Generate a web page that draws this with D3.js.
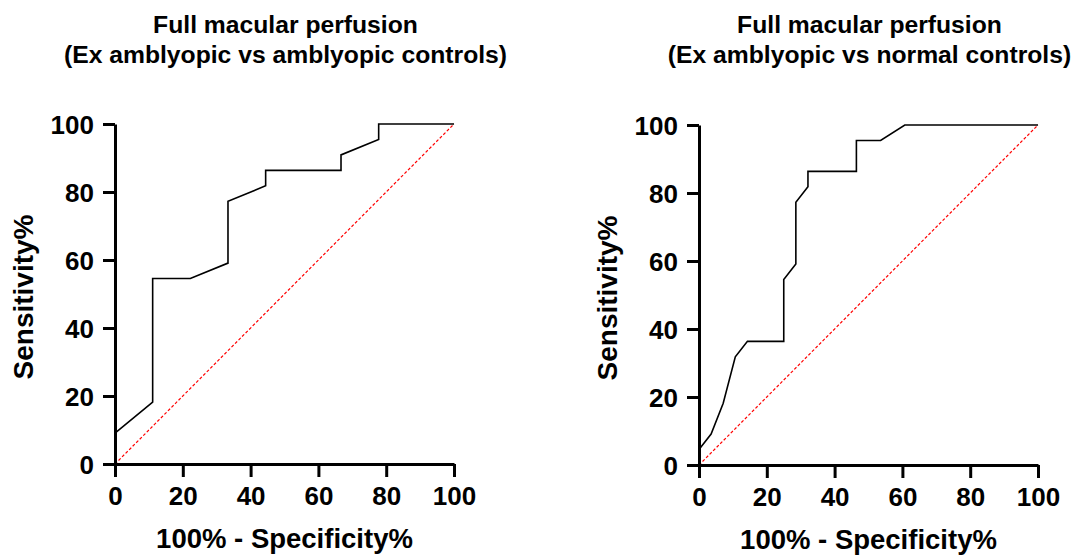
<!DOCTYPE html>
<html>
<head>
<meta charset="utf-8">
<script src="https://cdn.jsdelivr.net/npm/d3@7"></script>
<style>
  body { margin: 0; background: #fff; }
  text { font-family: "Liberation Sans", Arial, sans-serif; font-weight: bold; fill: #000; }
</style>
</head>
<body>
<div id="chart-holder"></div>
<script>
// ROC curves: [100% - specificity, sensitivity]
var rocAmblyopic = [
  [0, 9.09], [11.11, 18.18], [11.11, 54.55], [22.22, 54.55], [33.33, 59.09],
  [33.33, 77.27], [44.44, 81.82], [44.44, 86.36], [66.67, 86.36], [66.67, 90.91],
  [77.78, 95.45], [77.78, 100], [100, 100]
];
var rocNormal = [
  [0, 4.55], [3.57, 9.09], [7.14, 18.18], [10.71, 31.82], [14.29, 36.36],
  [25.0, 36.36], [25.0, 54.55], [28.57, 59.09], [28.57, 77.27], [32.14, 81.82],
  [32.14, 86.36], [46.43, 86.36], [46.43, 95.45], [53.57, 95.45], [60.71, 100],
  [100, 100]
];
var refLine = [[0, 0], [100, 100]];
var tickValues = [0, 20, 40, 60, 80, 100];
var titles = [
  ["Full macular perfusion", "(Ex amblyopic vs amblyopic controls)"],
  ["Full macular perfusion", "(Ex amblyopic vs normal controls)"]
];
var xLabel = "100% - Specificity%";
var yLabel = "Sensitivity%";

var svg = d3.select("#chart-holder").append("svg")
  .attr("width", 1075)
  .attr("height", 556);

// left & top offsets of each panel, plus where the y label baseline sits
var panels = [
  { left: 115, top: 124, yLabelX: 33, data: rocAmblyopic, title: titles[0] },
  { left: 699, top: 125, yLabelX: 617, data: rocNormal, title: titles[1] }
];
var w = 339, h = 340;

panels.forEach(function(p) {
  var x = d3.scaleLinear().domain([0, 100]).range([0, w]);
  var y = d3.scaleLinear().domain([0, 100]).range([h, 0]);

  var g = svg.append("g").attr("transform", "translate(" + p.left + "," + p.top + ")");

  var line = d3.line().x(d => x(d[0])).y(d => y(d[1]));

  // reference diagonal
  g.append("path")
    .datum(refLine)
    .attr("d", line)
    .attr("fill", "none")
    .attr("stroke", "#ff0000")
    .attr("stroke-width", 1.2)
    .attr("stroke-dasharray", "3,2");

  // roc curve
  g.append("path")
    .datum(p.data)
    .attr("d", line)
    .attr("fill", "none")
    .attr("stroke", "#000")
    .attr("stroke-width", 1.6);

  var xAxis = g.append("g")
    .attr("transform", "translate(0," + h + ")")
    .call(d3.axisBottom(x).tickValues(tickValues).tickSize(13).tickSizeOuter(0).tickPadding(10));
  var yAxis = g.append("g")
    .call(d3.axisLeft(y).tickValues(tickValues).tickSize(12).tickSizeOuter(0).tickPadding(9));

  [xAxis, yAxis].forEach(function(a) {
    a.select(".domain").attr("stroke", "#000").attr("stroke-width", 3);
    a.selectAll(".tick line").attr("stroke", "#000").attr("stroke-width", 3);
    a.selectAll(".tick text")
      .style("font-size", "26px")
      .style("font-family", "'Liberation Sans', Arial, sans-serif")
      .style("font-weight", "bold")
      .attr("fill", "#000");
  });
  yAxis.selectAll(".tick text").attr("dy", "0.36em");

  // axis titles
  g.append("text")
    .attr("x", w / 2)
    .attr("y", h + 84)
    .attr("text-anchor", "middle")
    .style("font-size", "27.5px")
    .text(xLabel);

  g.append("text")
    .attr("transform", "translate(" + (p.yLabelX - p.left) + "," + (h / 2 + 3) + ") rotate(-90)")
    .attr("text-anchor", "middle")
    .style("font-size", "28px")
    .text(yLabel);

  // chart title, two lines
  var t = g.append("text")
    .attr("text-anchor", "middle")
    .style("font-size", "24.7px");
  t.append("tspan").attr("x", w / 2 + 1).attr("y", 33 - p.top).text(p.title[0]);
  t.append("tspan").attr("x", w / 2 + 1).attr("y", 63 - p.top).text(p.title[1]);
});
</script>
</body>
</html>
